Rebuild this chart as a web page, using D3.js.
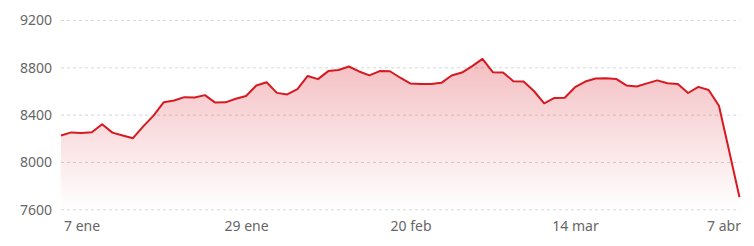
<!DOCTYPE html>
<html>
<head>
<meta charset="utf-8">
<script src="https://cdn.jsdelivr.net/npm/d3@7"></script>
<style>
  html, body { margin: 0; padding: 0; background: #fff; }
  svg { display: block; }
  .tick text { font-family: "Noto Sans", "Open Sans", sans-serif; font-size: 14px; fill: #666; }
</style>
</head>
<body>
<svg id="chart" width="754" height="246"></svg>
<script>
const dates = [
  "2025-01-03","2025-01-06","2025-01-07","2025-01-08","2025-01-09","2025-01-10",
  "2025-01-13","2025-01-14","2025-01-15","2025-01-16","2025-01-17",
  "2025-01-20","2025-01-21","2025-01-22","2025-01-23","2025-01-24",
  "2025-01-27","2025-01-28","2025-01-29","2025-01-30","2025-01-31",
  "2025-02-03","2025-02-04","2025-02-05","2025-02-06","2025-02-07",
  "2025-02-10","2025-02-11","2025-02-12","2025-02-13","2025-02-14",
  "2025-02-17","2025-02-18","2025-02-19","2025-02-20","2025-02-21",
  "2025-02-24","2025-02-25","2025-02-26","2025-02-27","2025-02-28",
  "2025-03-03","2025-03-04","2025-03-05","2025-03-06","2025-03-07",
  "2025-03-10","2025-03-11","2025-03-12","2025-03-13","2025-03-14",
  "2025-03-17","2025-03-18","2025-03-19","2025-03-20","2025-03-21",
  "2025-03-24","2025-03-25","2025-03-26","2025-03-27","2025-03-28",
  "2025-03-31","2025-04-01","2025-04-02","2025-04-03","2025-04-04",
  "2025-04-07"
];
const values = [
  8224, 8250, 8245, 8251, 8319, 8248,
  8224, 8201, 8301, 8392, 8505,
  8520, 8548, 8545, 8565, 8502,
  8504, 8534, 8558, 8647, 8674,
  8584, 8571, 8615, 8727, 8700,
  8768, 8777, 8807, 8765, 8732,
  8768, 8767, 8712, 8663, 8659,
  8659, 8669, 8731, 8756, 8810,
  8871, 8759, 8756, 8683, 8680,
  8600, 8496, 8541, 8543, 8632,
  8680, 8705, 8707, 8702, 8647,
  8638, 8664, 8690, 8666, 8659,
  8583, 8635, 8609, 8475, 8090,
  7702
];
const xTickDates = ["2025-01-07","2025-01-29","2025-02-20","2025-03-14","2025-04-07"];
const xTickLabels = ["7 ene","29 ene","20 feb","14 mar","7 abr"];
const yTicks = [7600, 8000, 8400, 8800, 9200];

(function () {
  const data = dates.map((d, i) => ({ date: d, value: values[i] }));

  const svg = d3.select("#chart");
  const mLeft = 61, mRight = 739.5, mTop = 20, mBottom = 209.3;

  const x = d3.scalePoint().domain(dates).range([mLeft, mRight]);
  const y = d3.scaleLinear().domain([7600, 9200]).range([mBottom, mTop]);

  const defs = svg.append("defs");
  const grad = defs.append("linearGradient")
    .attr("id", "areaGrad")
    .attr("gradientUnits", "userSpaceOnUse")
    .attr("x1", 0).attr("x2", 0)
    .attr("y1", y(8900)).attr("y2", mBottom);
  grad.append("stop").attr("offset", "0%").attr("stop-color", "#d9232e").attr("stop-opacity", 0.30);
  grad.append("stop").attr("offset", "100%").attr("stop-color", "#d9232e").attr("stop-opacity", 0.0);

  const yAxis = d3.axisLeft(y)
    .tickValues(yTicks)
    .tickSize(-(mRight - mLeft))
    .tickPadding(9)
    .tickFormat(d3.format("d"));
  const yg = svg.append("g")
    .attr("transform", `translate(${mLeft},0)`)
    .call(yAxis);
  yg.select(".domain").remove();
  yg.selectAll(".tick line")
    .attr("stroke", "#d6d6d6")
    .attr("stroke-width", 1)
    .attr("stroke-dasharray", "3,3");
  yg.selectAll(".tick text").attr("x", -9).attr("dy", "0.34em");

  const area = d3.area()
    .x(d => x(d.date))
    .y0(mBottom)
    .y1(d => y(d.value));
  svg.append("path")
    .datum(data)
    .attr("fill", "url(#areaGrad)")
    .attr("d", area);

  const line = d3.line()
    .x(d => x(d.date))
    .y(d => y(d.value));
  svg.append("path")
    .datum(data)
    .attr("fill", "none")
    .attr("stroke", "#d71921")
    .attr("stroke-width", 2)
    .attr("stroke-linejoin", "round")
    .attr("d", line);

  const xAxis = d3.axisBottom(x)
    .tickValues(xTickDates)
    .tickSize(0)
    .tickPadding(0)
    .tickFormat(d => xTickLabels[xTickDates.indexOf(d)]);
  const xg = svg.append("g")
    .attr("transform", `translate(0,${mBottom})`)
    .call(xAxis);
  xg.select(".domain").remove();
  xg.selectAll(".tick text").attr("y", 21.5).attr("dy", 0);
  xg.selectAll(".tick text")
    .filter((d, i, n) => i === n.length - 1)
    .attr("text-anchor", "end")
    .attr("x", 1);
})();
</script>
</body>
</html>
